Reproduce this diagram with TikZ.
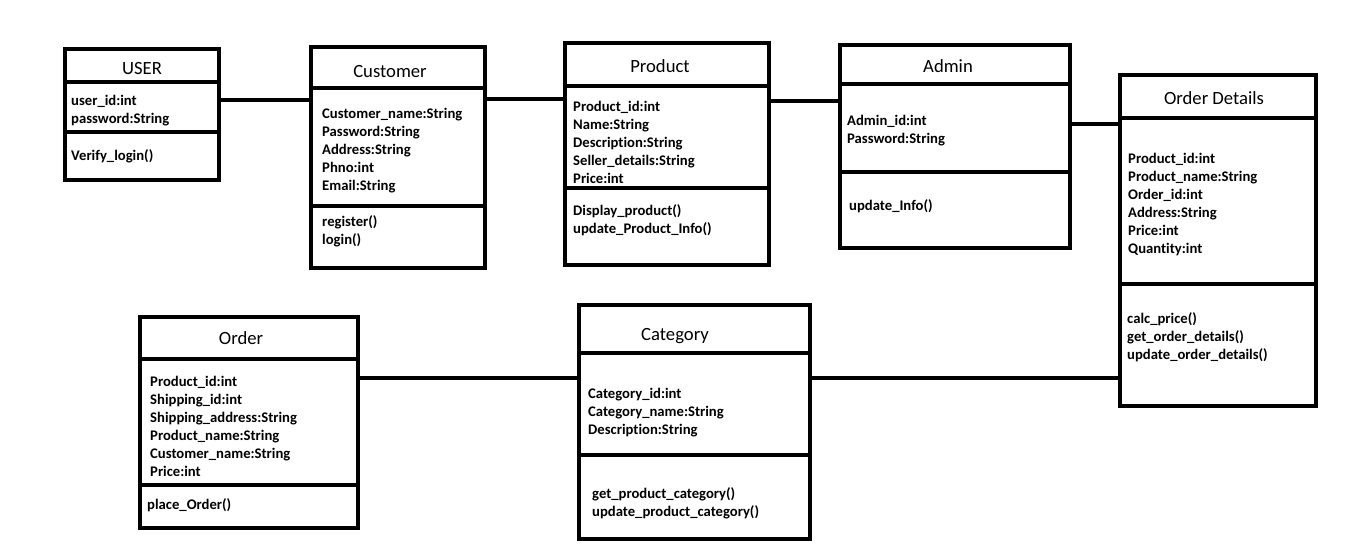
\documentclass[tikz,border=0pt]{standalone}
\usepackage{fontspec}
\setmainfont{Carlito}[Ligatures=NoCommon]
\usepackage{tikz}
\def\titlefont{\fontsize{18.67}{22}\selectfont}
\def\attrfont{\bfseries\fontsize{14.67}{18}\selectfont}

\begin{document}
\begin{tikzpicture}[x=1pt, y=-1pt,
		classbox/.style={draw=black, line width=4pt, inner sep=0pt},
		divider/.style={line width=4pt},
		link/.style={line width=4pt},
		title/.style={inner sep=0pt, font=\titlefont},
		members/.style={anchor=west, align=left, inner sep=0pt, font=\attrfont}]
		\useasboundingbox (0,0) rectangle (1360,550);

		\node[classbox, minimum width=154pt, minimum height=131pt] (user) at (142,114.5) {};
		\draw[divider] (user.west |- 0,82) -- (user.east |- 0,82);
		\draw[divider] (user.west |- 0,132) -- (user.east |- 0,132);
		\node[title] (usertitle) at (142,69) {USER};
		\node[members] (userattr) at (71,111) {user\_id:int\\password:String};
		\node[members] (userops) at (71,156) {Verify\_login()};

		\node[classbox, minimum width=174pt, minimum height=221pt] (customer) at (398,157.5) {};
		\draw[divider] (customer.west |- 0,88) -- (customer.east |- 0,88);
		\draw[divider] (customer.west |- 0,206) -- (customer.east |- 0,206);
		\node[title] (customertitle) at (390,72) {Customer};
		\node[members] (customerattr) at (322,150.5) {Customer\_name:String\\Password:String\\Address:String\\Phno:int\\Email:String};
		\node[members] (customerops) at (322,231) {register()\\login()};

		\node[classbox, minimum width=204pt, minimum height=222pt] (product) at (667,154) {};
		\draw[divider] (product.west |- 0,86) -- (product.east |- 0,86);
		\draw[divider] (product.west |- 0,188) -- (product.east |- 0,188);
		\node[title] (producttitle) at (660,66) {Product};
		\node[members] (productattr) at (573,142) {Product\_id:int\\Name:String\\Description:String\\Seller\_details:String\\Price:int};
		\node[members] (productops) at (573,220) {Display\_product()\\update\_Product\_Info()};

		\node[classbox, minimum width=230pt, minimum height=203pt] (admin) at (955,146.5) {};
		\draw[divider] (admin.west |- 0,84) -- (admin.east |- 0,84);
		\draw[divider] (admin.west |- 0,172) -- (admin.east |- 0,172);
		\node[title] (admintitle) at (948,66) {Admin};
		\node[members] (adminattr) at (847,130.5) {Admin\_id:int\\Password:String};
		\node[members] (adminops) at (849,206) {update\_Info()};

		\node[classbox, minimum width=196pt, minimum height=331pt] (orderdetails) at (1218,240.5) {};
		\draw[divider] (orderdetails.west |- 0,118) -- (orderdetails.east |- 0,118);
		\draw[divider] (orderdetails.west |- 0,284) -- (orderdetails.east |- 0,284);
		\node[title] (orderdetailstitle) at (1214,98) {Order Details};
		\node[members] (orderdetailsattr) at (1128,204) {Product\_id:int\\Product\_name:String\\Order\_id:int\\Address:String\\Price:int\\Quantity:int};
		\node[members] (orderdetailsops) at (1127,337) {calc\_price()\\get\_order\_details()\\update\_order\_details()};

		\node[classbox, minimum width=218pt, minimum height=211pt] (order) at (249,422.5) {};
		\draw[divider] (order.west |- 0,359) -- (order.east |- 0,359);
		\draw[divider] (order.west |- 0,485) -- (order.east |- 0,485);
		\node[title] (ordertitle) at (241,338) {Order};
		\node[members] (orderattr) at (150,426) {Product\_id:int\\Shipping\_id:int\\Shipping\_address:String\\Product\_name:String\\Customer\_name:String\\Price:int};
		\node[members] (orderops) at (147,505) {place\_Order()};

		\node[classbox, minimum width=231pt, minimum height=234pt] (category) at (694.5,422) {};
		\draw[divider] (category.west |- 0,353) -- (category.east |- 0,353);
		\draw[divider] (category.west |- 0,455) -- (category.east |- 0,455);
		\node[title] (categorytitle) at (675,336) {Category};
		\node[members] (categoryattr) at (588,412.5) {Category\_id:int\\Category\_name:String\\Description:String};
		\node[members] (categoryops) at (592,503) {get\_product\_category()\\update\_product\_category()};

		\draw[link] (user.east |- 0,100) -- (customer.west |- 0,100);
		\draw[link] (customer.east |- 0,99) -- (product.west |- 0,99);
		\draw[link] (product.east |- 0,101) -- (admin.west |- 0,101);
		\draw[link] (admin.east |- 0,124) -- (orderdetails.west |- 0,124);
		\draw[link] (order.east |- 0,378) -- (category.west |- 0,378);
		\draw[link] (category.east |- 0,378) -- (orderdetails.west |- 0,378);
	\end{tikzpicture}
\end{document}
